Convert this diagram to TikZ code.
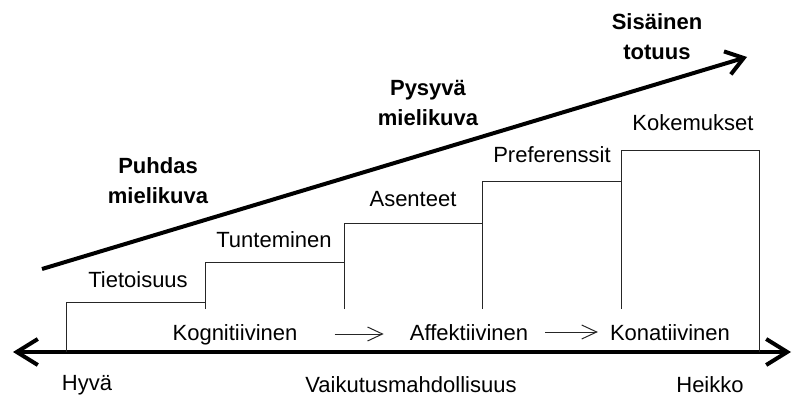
\documentclass[tikz,border=0pt]{standalone}
\usepackage{fontspec}
\setmainfont{Liberation Sans}
\usetikzlibrary{arrows.meta,calc}
\begin{document}
\begin{tikzpicture}[x=1pt,y=-1pt,
  lbl/.style={inner sep=0pt,anchor=base,font=\fontsize{22}{30}\selectfont},
  blbl/.style={inner sep=0pt,anchor=base,align=center,font=\fontsize{22}{30}\selectfont\bfseries},
  thin/.style={line width=1pt,black!85},
  thick/.style={line width=4pt,black},
  small/.style={line width=1pt,black!85,-{Straight Barb[length=15pt,width=14pt,line width=1pt]}}
]
\useasboundingbox (0,0) rectangle (793,396);
% axis
\coordinate (L) at (13,352);
\coordinate (R) at (791,352);
\draw[thick,{Straight Barb[length=21pt,width=26pt,line width=4pt]}-{Straight Barb[length=21pt,width=26pt,line width=4pt]}] (L) -- (R);
% diagonal arrow
\coordinate (D0) at (42,269);
\coordinate (D1) at (747,57);
\draw[thick,-{Straight Barb[length=17pt,width=24pt,line width=4pt]}] (D0) -- (D1);
% steps
\draw[thin] (66,352) -- (66,302) -- (205,302);
\draw[thin] (205,309) -- (205,262) -- (344,262);
\draw[thin] (344,309) -- (344,223) -- (482,223);
\draw[thin] (482,309) -- (482,181) -- (621,181);
\draw[thin] (621,309) -- (621,150) -- (759,150) -- (759,352);
% step labels
\node[lbl] (tie) at (138,287) {Tietoisuus};
\node[lbl] (tun) at (274,247) {Tunteminen};
\node[lbl] (ase) at (413,206) {Asenteet};
\node[lbl] (pre) at (552,162) {Preferenssit};
\node[lbl] (kok) at (693,131) {Kokemukset};
% bottom row
\node[lbl] (kog) at (235,340) {Kognitiivinen};
\node[lbl] (aff) at (469,340) {Affektiivinen};
\node[lbl] (kon) at (670,340) {Konatiivinen};
\draw[small] ([xshift=37pt]kog.east |- 0,334) -- ([xshift=-26pt]aff.west |- 0,334);
\draw[small] ([xshift=17pt]aff.east |- 0,332) -- ([xshift=-12pt]kon.west |- 0,332);
% axis labels
\node[lbl] (hyv) at (87,390) {Hyvä};
\node[lbl] (vai) at (411,392) {Vaikutusmahdollisuus};
\node[lbl] (hei) at (710,392) {Heikko};
% bold labels
\node[blbl] (puh) at (158,203) {Puhdas\\mielikuva};
\node[blbl] (pys) at (428,125) {Pysyvä\\mielikuva};
\node[blbl] (sis) at (657,60) {Sisäinen\\totuus};
\end{tikzpicture}
\end{document}
